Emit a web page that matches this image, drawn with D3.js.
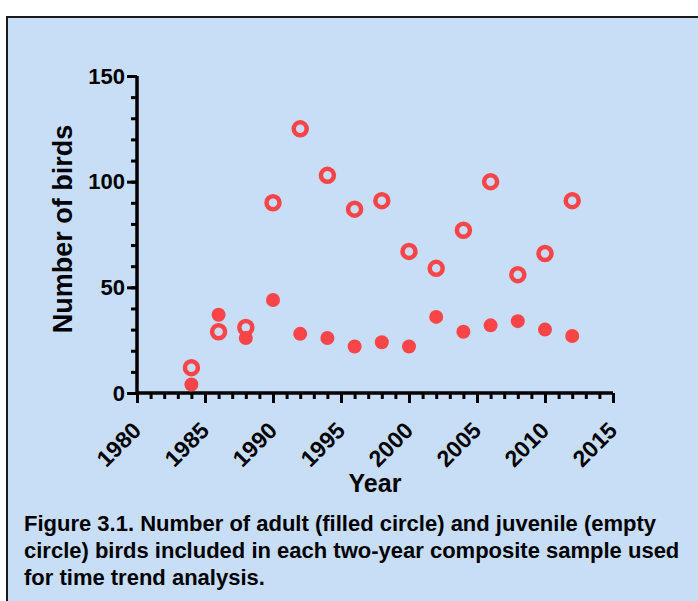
<!DOCTYPE html>
<html lang="en">
<head>
<meta charset="UTF-8">
<title>Figure 3.1 birds</title>
<script src="https://d3js.org/d3.v7.min.js"></script>
<style>
    body { margin: 0; background: #fff; }
    svg { display: block; font-family: "Liberation Sans", Arial, sans-serif; font-weight: bold; }
</style>
</head>
<body>
<script>
    // sample years (two-year composites)
    var years = [1984, 1986, 1988, 1990, 1992, 1994, 1996, 1998, 2000, 2002, 2004, 2006, 2008, 2010, 2012];
    var adults = [4, 37, 26, 44, 28, 26, 22, 24, 22, 36, 29, 32, 34, 30, 27];
    var juveniles = [12, 29, 31, 90, 125, 103, 87, 91, 67, 59, 77, 100, 56, 66, 91];
    var xTicks = [1980, 1985, 1990, 1995, 2000, 2005, 2010, 2015];
    var yTicks = [0, 50, 100, 150];
    var caption = [
        "Figure 3.1. Number of adult (filled circle) and juvenile (empty",
        "circle) birds included in each two-year composite sample used",
        "for time trend analysis."
    ];

    var w = 698, h = 601;
    var red = "#f94448";

    var svg = d3.select("body").append("svg")
        .attr("width", w)
        .attr("height", h);

    // blue panel with border on top and left
    svg.append("rect")
        .attr("x", 7).attr("y", 17)
        .attr("width", w).attr("height", h)
        .attr("fill", "#c8def7");
    svg.append("path")
        .attr("d", "M7," + h + "V17H" + w)
        .attr("fill", "none")
        .attr("stroke", "#1a1a1a")
        .attr("stroke-width", 2);

    var x = d3.scaleLinear().domain([1980, 2015]).range([137, 613]);
    var y = d3.scaleLinear().domain([0, 150]).range([393, 76]);

    // minor ticks
    var xAxisMinor = d3.axisBottom(x).ticks(35).tickSize(6).tickFormat("");
    var yAxisMinor = d3.axisLeft(y).ticks(15).tickSize(6).tickFormat("");

    var gxm = svg.append("g").attr("transform", "translate(0," + y(0) + ")").call(xAxisMinor);
    var gym = svg.append("g").attr("transform", "translate(" + x(1980) + ",0)").call(yAxisMinor);

    var xAxis = d3.axisBottom(x).tickValues(xTicks).tickSize(10).tickFormat(d3.format("d"));
    var yAxis = d3.axisLeft(y).tickValues(yTicks).tickSize(10).tickPadding(2);

    var gx = svg.append("g").attr("transform", "translate(0," + y(0) + ")").call(xAxis);
    var gy = svg.append("g").attr("transform", "translate(" + x(1980) + ",0)").call(yAxis);

    [gxm, gym, gx, gy].forEach(function(g) {
        g.selectAll("path, line").attr("stroke", "#000").attr("stroke-width", 3);
        g.select(".domain").attr("stroke-width", 3.5);
    });
    gxm.select(".domain").remove();
    gym.select(".domain").remove();
    gx.select(".domain").attr("d", "M" + x(1980) + ",0H" + x(2015));
    gy.select(".domain").attr("d", "M0," + y(0) + "V" + y(150));

    gy.selectAll("text")
        .attr("font-size", 22)
        .attr("font-family", "Liberation Sans, Arial, sans-serif")
        .attr("font-weight", "bold")
        .attr("fill", "#000");

    gx.selectAll("text")
        .attr("font-size", 23)
        .attr("font-family", "Liberation Sans, Arial, sans-serif")
        .attr("font-weight", "bold")
        .attr("fill", "#000")
        .attr("text-anchor", "end")
        .attr("dy", null)
        .attr("y", 0)
        .attr("transform", "translate(5,39) rotate(-45)");

    // axis titles
    svg.append("text")
        .attr("x", (x(1980) + x(2015)) / 2)
        .attr("y", 492)
        .attr("text-anchor", "middle")
        .attr("font-size", 25)
        .text("Year");

    svg.append("text")
        .attr("transform", "translate(72,229) rotate(-90)")
        .attr("text-anchor", "middle")
        .attr("font-size", 27)
        .text("Number of birds");

    // adults: filled circles
    svg.selectAll("circle.adult")
        .data(years)
        .enter()
        .append("circle")
        .attr("class", "adult")
        .attr("cx", function(d) { return x(d); })
        .attr("cy", function(d, i) { return y(adults[i]); })
        .attr("r", 7)
        .attr("fill", red);

    // juveniles: empty circles
    svg.selectAll("circle.juv")
        .data(years)
        .enter()
        .append("circle")
        .attr("class", "juv")
        .attr("cx", function(d) { return x(d); })
        .attr("cy", function(d, i) { return y(juveniles[i]); })
        .attr("r", 6.5)
        .attr("fill", "none")
        .attr("stroke", red)
        .attr("stroke-width", 4.5);

    // caption
    svg.selectAll("text.caption")
        .data(caption)
        .enter()
        .append("text")
        .attr("class", "caption")
        .attr("x", 24)
        .attr("y", function(d, i) { return 531 + i * 27; })
        .attr("font-size", 22)
        .text(function(d) { return d; });
</script>
</body>
</html>
